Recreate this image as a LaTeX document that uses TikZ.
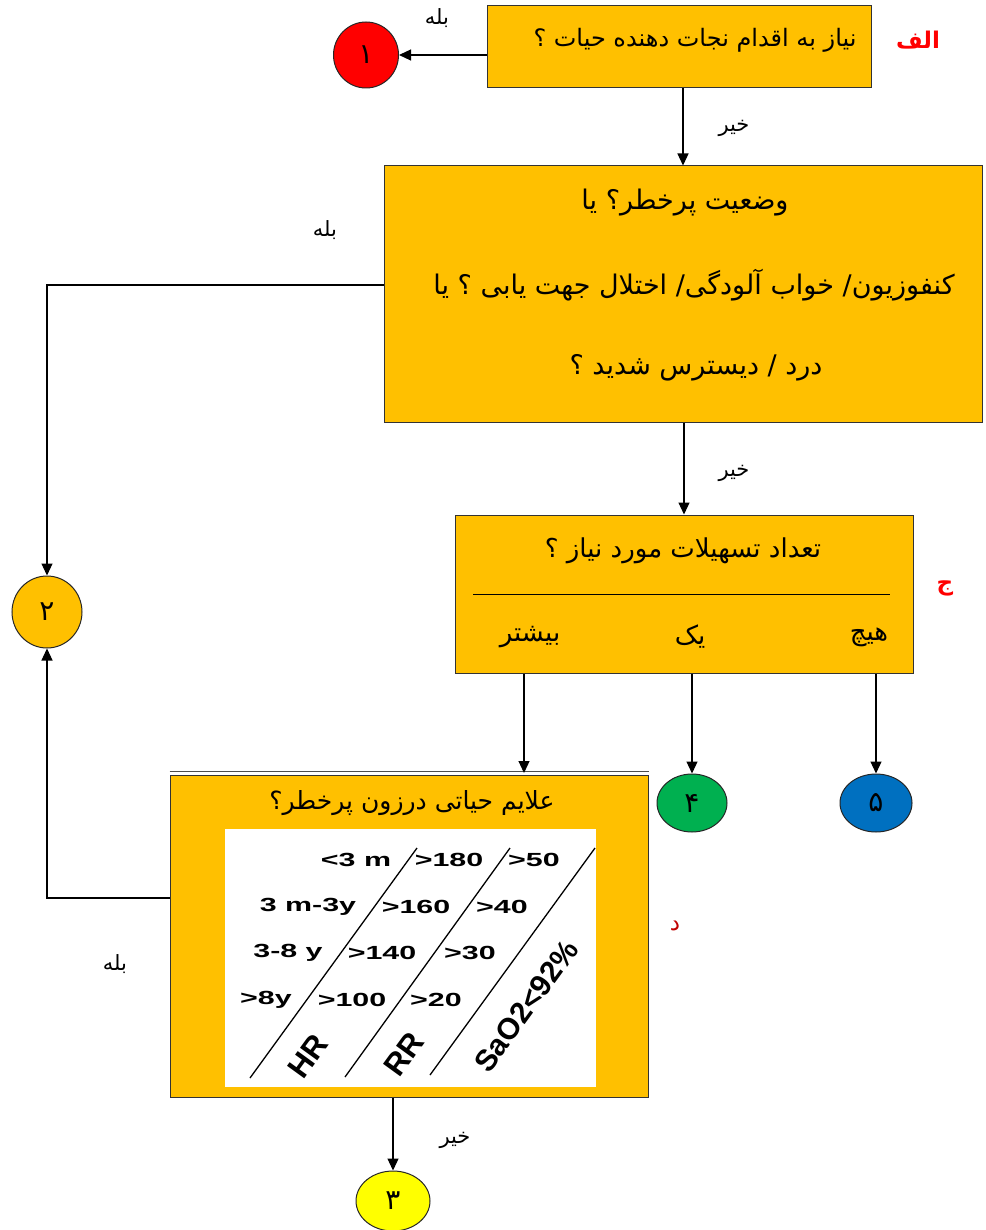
\documentclass[tikz,border=0pt]{standalone}
\usepackage{fontspec}
\setmainfont{DejaVu Sans}
\newfontfamily\fa[Script=Arabic]{DejaVu Sans}
\newfontfamily\tbl{Liberation Sans}
\TeXXeTstate=1
\usetikzlibrary{arrows.meta,shapes.geometric}
\definecolor{boxor}{HTML}{FFC000}
\definecolor{cred}{HTML}{FF0000}
\definecolor{cyel}{HTML}{FFFF00}
\definecolor{cgreen}{HTML}{00B050}
\definecolor{cblue}{HTML}{0070C0}
\definecolor{lblred}{HTML}{FF0000}
\definecolor{lbldred}{HTML}{C00000}
\newcommand\fatext[1]{{\fa\beginR #1\endR}}
\tikzset{
  qbox/.style={draw=black!80, fill=boxor, line width=1pt, inner sep=0pt},
  circ/.style={ellipse, draw=black!85, line width=1pt, inner sep=0pt, font=\fontsize{28}{30}\selectfont},
  arr/.style={-{Triangle[length=12pt,width=11pt]}, line width=1.2pt},
  fatxt/.style={font=\fontsize{26}{30}\selectfont, inner sep=0pt},
  yn/.style={font=\fontsize{21}{24}\selectfont, inner sep=0pt},
  sect/.style={font=\fontsize{23}{26}\selectfont\bfseries, inner sep=0pt},
  row/.style={font=\fontsize{19}{22}\selectfont\tbl\bfseries, inner sep=0pt, xscale=1.6},
  rot/.style={font=\fontsize{31}{34}\selectfont\tbl\bfseries, inner sep=0pt, rotate=54},
  diag/.style={line width=1.3pt}
}
\begin{document}
\begin{tikzpicture}[x=1pt,y=-1pt]
\useasboundingbox (0,0) rectangle (985,1230);

% boxes
\node[qbox, minimum width=384pt, minimum height=82pt] (A) at (679,47) {};
\node[fatxt, font=\fontsize{24}{28}\selectfont] (Atext) at (695,40) {\fatext{نیاز به اقدام نجات دهنده حیات ؟}};

\node[qbox, minimum width=598pt, minimum height=256pt] (B) at (683,294) {};
\node[fatxt, font=\fontsize{27}{30}\selectfont] (B1) at (685,203) {\fatext{وضعیت پرخطر؟ یا}};
\node[fatxt, font=\fontsize{27}{30}\selectfont] (B2) at (694,285) {\fatext{کنفوزیون/ خواب آلودگی/ اختلال جهت یابی ؟  یا}};
\node[fatxt, font=\fontsize{27}{30}\selectfont] (B3) at (696,368) {\fatext{درد / دیسترس شدید ؟}};

\node[qbox, minimum width=458pt, minimum height=158pt] (C) at (684,594) {};
\node[fatxt] (C1) at (683,551) {\fatext{تعداد تسهیلات مورد نیاز ؟}};
\draw[line width=1pt] (473,594) coordinate (sepL) -- (890,594) coordinate (sepR);
\node[fatxt] (Cmore) at (530,637) {\fatext{بیشتر}};
\node[fatxt] (Cone) at (690,637) {\fatext{یک}};
\node[fatxt] (Cnone) at (869,637) {\fatext{هیچ}};

\node[qbox, minimum width=478pt, minimum height=322pt] (D) at (409,936) {};
\draw[line width=0.6pt, black!70] ([yshift=3pt]D.north west) -- ([yshift=3pt]D.north east);
\node[fatxt, font=\fontsize{25}{28}\selectfont] (D1) at (412,803) {\fatext{علایم حیاتی درزون پرخطر؟}};
\node[fill=white, minimum width=371pt, minimum height=258pt, inner sep=0pt] (tab) at (410.5,958) {};

% table
\draw[diag] (417,848) -- (250,1078);
\draw[diag] (510,848) -- (345,1077);
\draw[diag] (595,848) -- (430,1075);
\node[row] (r11) at (356,860) {<3 m};
\node[row] (r12) at (449,860) {>180};
\node[row] (r13) at (534,860) {>50};
\node[row] (r21) at (308,907) {3 m-3y};
\node[row] (r22) at (416,907) {>160};
\node[row] (r23) at (502,907) {>40};
\node[row] (r31) at (288,953) {3-8 y};
\node[row] (r32) at (382,953) {>140};
\node[row] (r33) at (470,953) {>30};
\node[row] (r41) at (266,1000) {>8y};
\node[row] (r42) at (352,1000) {>100};
\node[row] (r43) at (436,1000) {>20};
\node[rot] (hr) at (308,1056) {HR};
\node[rot] (rr) at (404,1054) {RR};
\node[rot, font=\fontsize{30}{32}\selectfont\tbl\bfseries] (sao) at (526,1006) {SaO2<92\%};

% circles
\node[circ, fill=cred, minimum width=65pt, minimum height=66pt] (c1) at (366,55) {\fatext{۱}};
\node[circ, fill=boxor, minimum width=70pt, minimum height=72pt] (c2) at (47,612) {\fatext{۲}};
\node[circ, fill=cyel, minimum width=74pt, minimum height=60pt] (c3) at (393,1201) {\fatext{۳}};
\node[circ, fill=cgreen, minimum width=70pt, minimum height=58pt] (c4) at (692,803) {\fatext{۴}};
\node[circ, fill=cblue, minimum width=72pt, minimum height=58pt] (c5) at (876,803) {\fatext{۵}};
\coordinate (dIn) at (524,773);

% connectors
\draw[arr] (A.west |- c1.east) -- (c1.east);
\draw[arr] (B.north |- A.south) -- (B.north);
\draw[arr] ([yshift=9pt]B.west) -| (c2.north);
\draw[arr] (C.north |- B.south) -- (C.north);
\draw[arr] (C.south -| dIn) -- (dIn);
\draw[arr] (C.south -| c4.north) -- (c4.north);
\draw[arr] (C.south -| c5.north) -- (c5.north);
\draw[arr] ([yshift=38pt]D.west) -| (c2.south);
\draw[arr] (D.south -| c3.north) -- (c3.north);

% labels
\node[yn] (l1) at (437,18) {\fatext{بله}};
\node[yn] (l2) at (734,128) {\fatext{خیر}};
\node[yn] (l3) at (325,230) {\fatext{بله}};
\node[yn] (l4) at (734,473) {\fatext{خیر}};
\node[yn] (l5) at (115,964) {\fatext{بله}};
\node[yn] (l6) at (455,1140) {\fatext{خیر}};
\node[sect, text=lblred] (sA) at (918,40) {\fatext{الف}};
\node[sect, text=lblred] (sC) at (945,588) {\fatext{ج}};
\node[yn, text=lbldred, font=\fontsize{23}{26}\selectfont] (sD) at (675,926) {\fatext{د}};
\end{tikzpicture}
\end{document}
